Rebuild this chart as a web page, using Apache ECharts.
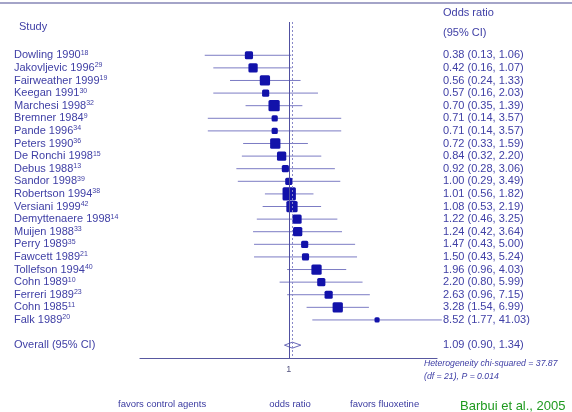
<!DOCTYPE html>
<html>
<head>
<meta charset="utf-8">
<script src="https://cdn.jsdelivr.net/npm/echarts@6/dist/echarts.min.js"></script>
<style>html,body{margin:0;padding:0;background:#fff;}#c{width:572px;height:412px;}</style>
</head>
<body>
<div id="c"></div>
<script>
var studies = ["Dowling 1990","Jakovljevic 1996","Fairweather 1999","Keegan 1991","Marchesi 1998","Bremner 1984","Pande 1996","Peters 1990","De Ronchi 1998","Debus 1988","Sandor 1998","Robertson 1994","Versiani 1999","Demyttenaere 1998","Muijen 1988","Perry 1989","Fawcett 1989","Tollefson 1994","Cohn 1989","Ferreri 1989","Cohn 1985","Falk 1989"];
var refs = ["18","29","19","30","32","9","34","36","15","13","39","38","42","14","33","35","21","40","10","23","11","20"];
var oddsRatio = [0.38,0.42,0.56,0.57,0.70,0.71,0.71,0.72,0.84,0.92,1.00,1.01,1.08,1.22,1.24,1.47,1.50,1.96,2.20,2.63,3.28,8.52];
var ciLow = [0.13,0.16,0.24,0.16,0.35,0.14,0.14,0.33,0.32,0.28,0.29,0.56,0.53,0.46,0.42,0.43,0.43,0.96,0.80,0.96,1.54,1.77];
var ciHigh = [1.06,1.07,1.33,2.03,1.39,3.57,3.57,1.59,2.20,3.06,3.49,1.82,2.19,3.25,3.64,5.00,5.24,4.03,5.99,7.15,6.99,41.03];
var weights = [3.8,4.9,6.0,2.9,7.2,2.2,2.2,6.0,4.9,2.9,2.9,10.1,7.2,4.9,4.9,2.9,2.9,6.0,3.8,3.8,6.0,1.5];
var overall = {label: "Overall (95% CI)", or: 1.09, lo: 0.90, hi: 1.34};
var heterogeneity = ["Heterogeneity chi-squared = 37.87", "(df = 21), P = 0.014"];

var TXT = '#4040a6';
var FS = 11;
var data = [];
for (var i = 0; i < studies.length; i++) {
  data.push([i, oddsRatio[i], ciLow[i], ciHigh[i], weights[i], 0]);
}
data.push([studies.length + 1, overall.or, overall.lo, overall.hi, 0, 1]);

function fmt(v){ return v.toFixed(2); }

var chart = echarts.init(document.getElementById('c'), null, {renderer: 'canvas'});
chart.setOption({
  animation: false,
  backgroundColor: '#fff',
  grid: {left: 140, right: 135, top: 22, bottom: 54},
  xAxis: {
    type: 'log', logBase: 10, min: 0.027, max: 36.5,
    axisLine: {show: true, onZero: false, lineStyle: {color: '#5858a0', width: 1.2}},
    axisTick: {show: false},
    splitLine: {show: false},
    axisLabel: {
      margin: 7, color: '#555580', fontSize: 9, fontFamily: 'Liberation Sans',
      showMinLabel: false, showMaxLabel: false,
      formatter: function (v) { return Math.abs(v - 1) < 1e-6 ? '1' : ''; }
    }
  },
  yAxis: {type: 'value', min: -2.64, max: 24.02, inverse: true, show: false},
  series: [{
    type: 'custom',
    clip: false,
    encode: {x: [1, 2, 3], y: 0},
    data: data,
    renderItem: function (params, api) {
      var idx = api.value(0), or = api.value(1), lo = api.value(2), hi = api.value(3), w = api.value(4), isOv = api.value(5);
      var p = api.coord([or, idx]);
      var pl = api.coord([lo, idx]);
      var ph = api.coord([hi, idx]);
      var children = [];
      var di = params.dataIndex;
      if (!isOv) {
        children.push({type: 'line', shape: {x1: pl[0], y1: p[1], x2: ph[0], y2: p[1]}, style: {stroke: '#7c7cc4', lineWidth: 1}});
        var s = 4.2 * Math.sqrt(w);
        children.push({type: 'rect', shape: {x: p[0] - s / 2, y: p[1] - s / 2, width: s, height: s, r: 1.5}, style: {fill: '#1212aa'}});
        children.push({type: 'text', style: {
          x: 14, y: p[1], verticalAlign: 'middle', align: 'left',
          text: '{n|' + studies[di] + '}{s|' + refs[di] + '}',
          rich: {
            n: {fontSize: FS, fontFamily: 'Liberation Sans', fill: TXT, color: TXT, lineHeight: 12},
            s: {fontSize: 7, fontFamily: 'Liberation Sans', fill: TXT, color: TXT, verticalAlign: 'top', lineHeight: 12, padding: [0, 0, 5, 0]}
          }
        }});
        children.push({type: 'text', style: {
          x: 443, y: p[1], verticalAlign: 'middle', align: 'left',
          text: fmt(oddsRatio[di]) + ' (' + fmt(ciLow[di]) + ', ' + fmt(ciHigh[di]) + ')',
          fontSize: FS, fontFamily: 'Liberation Sans', fill: TXT
        }});
      } else {
        var h = 3;
        children.push({type: 'polygon', shape: {points: [[pl[0], p[1]], [p[0], p[1] - h], [ph[0], p[1]], [p[0], p[1] + h]]}, style: {fill: 'none', stroke: '#6a6ab8', lineWidth: 1}});
        children.push({type: 'text', style: {x: 14, y: p[1], verticalAlign: 'middle', text: overall.label, fontSize: FS, fontFamily: 'Liberation Sans', fill: TXT}});
        children.push({type: 'text', style: {x: 443, y: p[1], verticalAlign: 'middle', text: fmt(overall.or) + ' (' + fmt(overall.lo) + ', ' + fmt(overall.hi) + ')', fontSize: FS, fontFamily: 'Liberation Sans', fill: TXT}});
      }
      return {type: 'group', children: children};
    },
    markLine: {
      silent: true, symbol: 'none', label: {show: false},
      data: [
        {xAxis: 1, lineStyle: {color: '#5050a0', width: 1, type: 'solid'}},
        {xAxis: overall.or, lineStyle: {color: '#8888c8', width: 1, type: [2, 2]}}
      ]
    }
  }],
  graphic: [
    {type: 'line', shape: {x1: 0, y1: 3, x2: 572, y2: 3}, style: {stroke: '#a4a4c8', lineWidth: 2}},
    {type: 'text', x: 19, y: 27, style: {text: 'Study', fontSize: FS, fontFamily: 'Liberation Sans', fill: TXT, verticalAlign: 'middle'}},
    {type: 'text', x: 443, y: 13, style: {text: 'Odds ratio', fontSize: FS, fontFamily: 'Liberation Sans', fill: TXT, verticalAlign: 'middle'}},
    {type: 'text', x: 443, y: 33, style: {text: '(95% CI)', fontSize: FS, fontFamily: 'Liberation Sans', fill: TXT, verticalAlign: 'middle'}},
    {type: 'text', x: 424, y: 364, style: {text: heterogeneity[0], fontSize: 8.7, fontStyle: 'italic', fontFamily: 'Liberation Sans', fill: TXT, verticalAlign: 'middle'}},
    {type: 'text', x: 424, y: 377, style: {text: heterogeneity[1], fontSize: 8.7, fontStyle: 'italic', fontFamily: 'Liberation Sans', fill: TXT, verticalAlign: 'middle'}},
    {type: 'text', x: 118, y: 404, style: {text: 'favors control agents', fontSize: 9.5, fontFamily: 'Liberation Sans', fill: '#3a3aa0', verticalAlign: 'middle'}},
    {type: 'text', x: 290, y: 404, style: {text: 'odds ratio', fontSize: 9.5, fontFamily: 'Liberation Sans', fill: '#3a3aa0', verticalAlign: 'middle', align: 'center'}},
    {type: 'text', x: 350, y: 404, style: {text: 'favors fluoxetine', fontSize: 9.5, fontFamily: 'Liberation Sans', fill: '#3a3aa0', verticalAlign: 'middle'}},
    {type: 'text', x: 460, y: 406, style: {text: 'Barbui et al., 2005', fontSize: 13, fontFamily: 'Liberation Sans', fill: '#1f9a1f', verticalAlign: 'middle'}}
  ]
});
</script>
</body>
</html>
